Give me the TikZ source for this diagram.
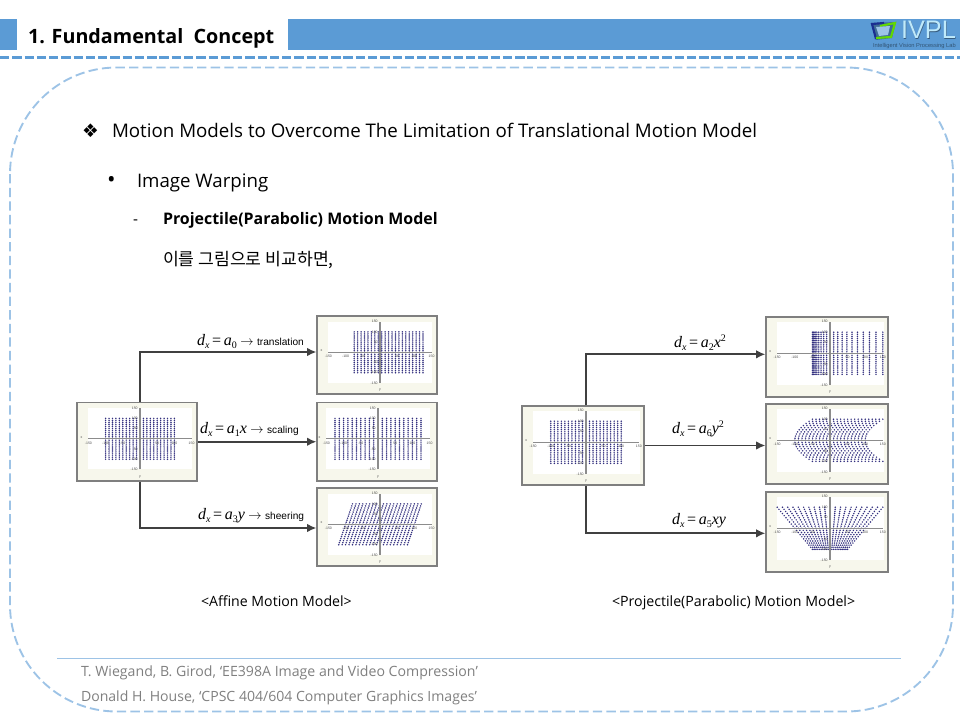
\documentclass[tikz,border=0pt]{standalone}
\usepackage{fontspec}
\setmainfont{Open Sans}
\newfontfamily\krfont{Noto Sans CJK KR}
\newfontfamily\symfont{DejaVu Sans}
\newfontfamily\arialfont{Liberation Sans}
\newfontfamily\timesfont{Liberation Serif}
\usetikzlibrary{arrows.meta}
\definecolor{barblue}{HTML}{5B9BD5}
\definecolor{paleblue}{HTML}{9DC3E6}
\definecolor{panelfill}{HTML}{F7F7EC}
\definecolor{panelline}{HTML}{7F7F7F}
\definecolor{dotc}{HTML}{33307F}
\definecolor{axisc}{HTML}{8C8C8C}
\definecolor{conn}{HTML}{404040}
\definecolor{foot}{HTML}{7F7F7F}
\tikzset{
  txt/.style={anchor=base west,inner sep=0pt,outer sep=0pt},
  panelbox/.style={draw=panelline,line width=.9pt,fill=panelfill,inner sep=0pt,minimum width=#1},
  link/.style={draw=conn,line width=1.4pt,-{Latex[length=7pt,width=6.5pt]}},
  ticktxt/.style={inner sep=0pt,text=black!70,font=\arialfont\fontsize{2.6}{3}\selectfont},
}
\newcommand{\vb}[1]{\raisebox{-2.4pt}{\fontsize{7.5}{8}\selectfont\itshape #1}}
\newcommand{\vn}[1]{\raisebox{-2.4pt}{\fontsize{7.5}{8}\selectfont\upshape #1}}
\newcommand{\vsup}[1]{\raisebox{4pt}{\fontsize{7.5}{8}\selectfont\upshape #1}}
\newcommand{\eqn}[1]{{\timesfont\fontsize{12}{14}\selectfont\itshape d\vb{x}\,{\upshape =}\,#1}}
\newcommand{\wrd}[1]{{\arialfont\fontsize{7.6}{9}\selectfont #1}}
% name, x0, y0, x1, y1, axis x offset, x scale (pt per unit), y scale, x transform
\newcommand{\plotpanel}[9]{%
  \node[panelbox=#4*.75pt-#2*.75pt,minimum height=#5*.75pt-#3*.75pt] (#1) at ({(#2+#4)/2},{(#3+#5)/2}) {};
  \begin{scope}[shift={(#2+#6,#3+36.3)},x=#7pt,y=#8pt]
    \fill[white] (-150,-150) rectangle (152,150);
    \fill[dotc] \foreach \i in {-100,-90,...,100}{\foreach \j in {-100,-90,...,100}{ ({#9},{\j}) circle[radius=.62pt] }};
    \draw[axisc,line width=.9pt] (-150,0) -- (150,0);
    \draw[axisc,line width=.9pt] (0,-150) -- (0,150);
    \foreach \t in {-150,-100,-50,50,100,150}{
      \node[ticktxt] at (\t,-20) {\t};
      \node[ticktxt,anchor=east] at (-6,\t) {\t};
    }
    \node[ticktxt] at (-170,6) {x};
    \node[ticktxt] at (0,-185) {y};
  \end{scope}
}
\begin{document}
\begin{tikzpicture}[x=.75pt,y=-.75pt]
\useasboundingbox (0,0) rectangle (960,720);
% header
\fill[barblue] (0,19) rectangle (17,50);
\fill[barblue] (288,19) rectangle (960,50);
\node[txt] (title) at (28,43.5) {\fontsize{14.8}{18}\selectfont\bfseries 1. Fundamental\ \ Concept};
\draw[barblue,line width=2pt,dash pattern=on 7pt off 2.2pt] (0,57.5) -- (960,57.5);
% frame
\draw[paleblue,line width=1.4pt,dash pattern=on 7pt off 3.2pt,rounded corners=80pt] (10,67.5) rectangle (953,711.5);
% logo
\fill[barblue!70!black] (871,23) -- (896,22) -- (892,38) -- (876,40) -- cycle;
\draw[line width=1.6pt,color=blue!45!black!70!barblue] (876,39) -- (872,24) -- (884,23);
\draw[line width=1.6pt,color=green!55!yellow!85!black] (880,26) -- (895,23) -- (891,37) -- (876,38);
\fill[barblue!60!white] (876,27) -- (890,26) -- (888,35) -- (879,36) -- cycle;
\node[txt,text=barblue!60!black] (logoshadow) at (901.6,39.6) {\arialfont\fontsize{19}{20}\selectfont IVPL};
\node[txt,text=cyan!25!white] (logotxt) at (901,39) {\arialfont\fontsize{19}{20}\selectfont IVPL};
\node[txt,text=barblue!55!black] (logosub) at (873,47.5) {\arialfont\fontsize{4.3}{5}\selectfont Intelligent Vision Processing Lab};
% body text
\node[txt] (b1) at (82,138) {\symfont\fontsize{14}{16}\selectfont ❖};
\node[txt] (t1) at (112,138) {\fontsize{14.05}{16}\selectfont Motion Models to Overcome The Limitation of Translational Motion Model};
\node[txt] (b2) at (107,188) {\fontsize{17}{18}\selectfont •};
\node[txt] (t2) at (137,188) {\fontsize{14}{16}\selectfont Image Warping};
\node[txt] (b3) at (133,225) {\fontsize{11.5}{14}\selectfont -};
\node[txt] (t3) at (163,225) {\fontsize{11.95}{14}\selectfont\bfseries Projectile(Parabolic) Motion Model};
\node[txt] (t4) at (163,265.5) {\krfont\fontsize{12.9}{14}\selectfont 이를 그림으로 비교하면,};
% affine panels
\plotpanel{sa}{77}{402.5}{197}{481}{63}{.258}{.153}{\i}
\plotpanel{ta}{317}{316}{437}{394}{63}{.258}{.153}{\i+25}
\plotpanel{tb}{317}{402.5}{437}{481}{61}{.258}{.153}{1.25*\i}
\plotpanel{tc}{317}{488}{437}{566}{63}{.258}{.153}{\i+.2*\j}
% projectile panels
\plotpanel{sb}{522}{406}{644}{485}{64}{.264}{.158}{\i}
\plotpanel{td}{766}{317}{888}{397}{64}{.264}{.158}{\i+.005*\i*\i}
\plotpanel{te}{766}{404}{888}{484}{64}{.264}{.158}{\i+.005*\j*\j}
\plotpanel{tf}{766}{492}{888}{572}{64}{.264}{.158}{\i+.005*\i*\j}
% connectors
\draw[link] ([xshift=2.25pt]sa.north) |- ([yshift=2.25pt]ta.west);
\draw[link] (sa.east) -- (sa.east -| tb.west);
\draw[link] ([xshift=2.25pt]sa.south) |- ([yshift=-.75pt]tc.west);
\draw[link] ([xshift=2.25pt]sb.north) |- ([yshift=2pt]td.west);
\draw[link] (sb.east) -- (sb.east -| te.west);
\draw[link] ([xshift=2.25pt]sb.south) |- ([yshift=-1pt]tf.west);
% connector labels
\node[txt] (la) at (197,345) {\eqn{a\vn{0}} $\rightarrow$ \wrd{translation}};
\node[txt] (lb) at (200,433) {\eqn{a\vn{1}x} $\rightarrow$ \wrd{scaling}};
\node[txt] (lc) at (198,519) {\eqn{a\vn{3}y} $\rightarrow$ \wrd{sheering}};
\node[txt] (ld) at (674,347) {\eqn{a\vn{2}x\vsup{2}}};
\node[txt] (le) at (672,433) {\eqn{a\vn{6}y\vsup{2}}};
\node[txt] (lf) at (672,524) {\eqn{a\vn{5}xy}};
% captions
\node[txt] (c1) at (201,606) {\fontsize{10.6}{12}\selectfont <Affine Motion Model>};
\node[txt] (c2) at (612,606) {\fontsize{10.65}{12}\selectfont <Projectile(Parabolic) Motion Model>};
% footer
\draw[paleblue,line width=.8pt] (57,658.5) -- (901,658.5);
\node[txt,text=foot] (f1) at (81,676) {\fontsize{10.6}{12}\selectfont T. Wiegand, B. Girod, ‘EE398A Image and Video Compression’};
\node[txt,text=foot] (f2) at (81,701) {\fontsize{10.55}{12}\selectfont Donald H. House, ‘CPSC 404/604 Computer Graphics Images’};
\end{tikzpicture}
\end{document}
